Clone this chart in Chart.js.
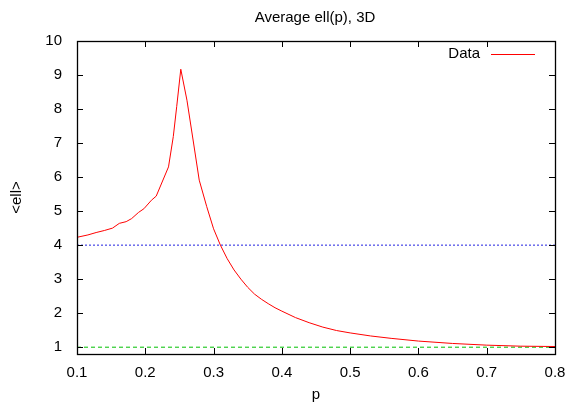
<!DOCTYPE html>
<html>
<head>
<meta charset="utf-8">
<script src="https://cdn.jsdelivr.net/npm/chart.js@4/dist/chart.umd.min.js"></script>
<style>
  html, body { margin: 0; padding: 0; background: #fff; }
  #wrap { width: 566px; height: 404px; }
</style>
</head>
<body>
<div id="wrap"><canvas id="c" width="566" height="404"></canvas></div>
<script>
// ---- data ----
const pValues   = [0.100, 0.116, 0.128, 0.140, 0.152, 0.162, 0.172, 0.180, 0.190, 0.198,
                   0.209, 0.216, 0.234, 0.241, 0.246, 0.252, 0.261, 0.270, 0.279, 0.290,
                   0.300, 0.310, 0.320, 0.330, 0.340, 0.350, 0.360, 0.370, 0.380, 0.390,
                   0.400, 0.420, 0.440, 0.460, 0.480, 0.500, 0.530, 0.560, 0.600, 0.650,
                   0.700, 0.750, 0.800];
const ellValues = [4.23, 4.30, 4.37, 4.43, 4.50, 4.64, 4.69, 4.78, 4.96, 5.07,
                   5.32, 5.44, 6.30, 7.19, 8.07, 9.17, 8.26, 7.09, 5.91, 5.13,
                   4.48, 4.00, 3.60, 3.27, 3.00, 2.76, 2.56, 2.41, 2.28, 2.16,
                   2.06, 1.87, 1.72, 1.59, 1.49, 1.42, 1.33, 1.26, 1.18, 1.11,
                   1.06, 1.03, 1.02];
const refP      = [0.1, 0.8];
const refFour   = [4, 4];
const refOne    = [1, 1];
const xTickValues = [0.1, 0.2, 0.3, 0.4, 0.5, 0.6, 0.7, 0.8];
const xTickLabels = ['0.1', '0.2', '0.3', '0.4', '0.5', '0.6', '0.7', '0.8'];
const yTickValues = [1, 2, 3, 4, 5, 6, 7, 8, 9, 10];
const yTickLabels = ['1', '2', '3', '4', '5', '6', '7', '8', '9', '10'];
const chartTitle = 'Average ell(p), 3D';
const xTitle = 'p';
const yTitle = '<ell>';
const seriesLabel = 'Data';

const FONT = "'Liberation Sans', Arial, sans-serif";
const toPts = (xs, ys) => xs.map((x, i) => ({ x: x, y: ys[i] }));

const frame = {
  id: 'frame',
  afterDatasetsDraw(chart) {
    const ctx = chart.ctx, a = chart.chartArea;
    const xs = chart.scales.x, ys = chart.scales.y;
    const L = 6;
    ctx.save();
    ctx.strokeStyle = '#000';
    ctx.lineWidth = 1;
    ctx.beginPath();
    xs.ticks.forEach(t => {
      const px = Math.round(xs.getPixelForValue(t.value)) + 0.5;
      ctx.moveTo(px, a.bottom); ctx.lineTo(px, a.bottom - L);
      ctx.moveTo(px, a.top); ctx.lineTo(px, a.top + L);
    });
    ys.ticks.forEach(t => {
      const py = Math.round(ys.getPixelForValue(t.value)) + 0.5;
      ctx.moveTo(a.left, py); ctx.lineTo(a.left + L, py);
      ctx.moveTo(a.right, py); ctx.lineTo(a.right - L, py);
    });
    ctx.stroke();
    ctx.lineWidth = 1.3;
    ctx.strokeRect(Math.round(a.left) + 0.5, Math.round(a.top) + 0.5,
                   Math.round(a.right - a.left), Math.round(a.bottom - a.top));
    // title centred over the plot
    ctx.fillStyle = '#000';
    ctx.font = '15px ' + FONT;
    ctx.textAlign = 'center';
    ctx.textBaseline = 'middle';
    ctx.fillText(chartTitle, (a.left + a.right) / 2 - 1, 17.5);
    // legend (top right, inside the plot)
    const ds = chart.data.datasets[0];
    const ly = a.top + 13;
    ctx.font = '15px ' + FONT;
    ctx.textAlign = 'right';
    ctx.fillText(ds.label, a.right - 75, ly);
    ctx.strokeStyle = ds.borderColor;
    ctx.lineWidth = 1;
    ctx.beginPath();
    ctx.moveTo(a.right - 64, ly + 0.5);
    ctx.lineTo(a.right - 20, ly + 0.5);
    ctx.stroke();
    ctx.restore();
  }
};

new Chart(document.getElementById('c'), {
  type: 'scatter',
  data: {
    datasets: [
      { label: seriesLabel, data: toPts(pValues, ellValues), showLine: true,
        borderColor: '#ff0000', borderWidth: 1, pointRadius: 0, tension: 0, order: 0 },
      { label: 'ref4', data: toPts(refP, refFour), showLine: true,
        borderColor: '#2020e0', borderWidth: 1, borderDash: [2, 2], pointRadius: 0, order: 1 },
      { label: 'ref1', data: toPts(refP, refOne), showLine: true,
        borderColor: '#00c000', borderWidth: 1, borderDash: [4, 3], pointRadius: 0, order: 2 }
    ]
  },
  options: {
    responsive: false,
    animation: false,
    devicePixelRatio: 1,
    layout: { padding: { left: 0, right: 11, top: 41, bottom: 0 } },
    plugins: {
      legend: { display: false },
      tooltip: { enabled: false },
      title: { display: false }
    },
    scales: {
      x: {
        type: 'linear', min: 0.1, max: 0.8,
        afterBuildTicks: s => { s.ticks = xTickValues.map(v => ({ value: v })); },
        afterFit: s => { s.height = 50; s.paddingRight = 0; s.paddingLeft = 0; },
        grid: { display: false, drawTicks: false },
        border: { display: false },
        ticks: { color: '#000', padding: 10, maxRotation: 0,
                 font: { family: FONT, size: 15 },
                 callback: (v, i) => xTickLabels[i] },
        title: { display: true, text: xTitle, color: '#000',
                 font: { family: FONT, size: 15 }, padding: { top: 0, bottom: 0 } }
      },
      y: {
        type: 'linear', min: 0.8, max: 10,
        afterBuildTicks: s => { s.ticks = yTickValues.map(v => ({ value: v })); },
        afterFit: s => { s.width = 77; s.paddingTop = 0; s.paddingBottom = 0; },
        grid: { display: false, drawTicks: false },
        border: { display: false },
        ticks: { color: '#000', padding: 15,
                 font: { family: FONT, size: 15 },
                 callback: (v, i) => yTickLabels[i] },
        title: { display: true, text: yTitle, color: '#000',
                 font: { family: FONT, size: 15 }, padding: { top: 8, bottom: 0 } }
      }
    }
  },
  plugins: [frame]
});
</script>
</body>
</html>
